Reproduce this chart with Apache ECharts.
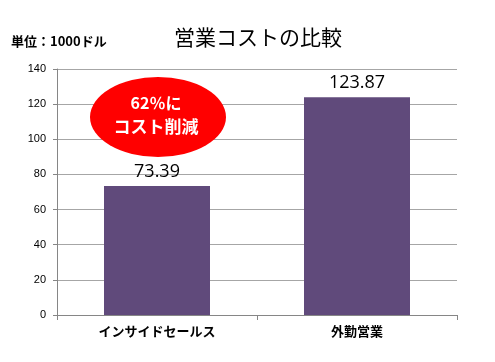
<!DOCTYPE html>
<html><head><meta charset="utf-8">
<script src="https://cdn.jsdelivr.net/npm/echarts@6/dist/echarts.min.js"></script>
<style>html,body{margin:0;padding:0;background:#fff}#c{width:495px;height:362px}</style>
</head><body><div id="c"></div>
<script>
const categories = ['インサイドセールス', '外勤営業'];
const costs = [73.39, 123.87];
const yTicks = { min: 0, max: 140, interval: 20 };
const titleText = '営業コストの比較';
const unitText = '単位：1000ドル';
const calloutLines = ['62％に', 'コスト削減'];

const JP = '"Noto Sans CJK JP", sans-serif';
const chart = echarts.init(document.getElementById('c'), null, { renderer: 'canvas' });
chart.setOption({
  animation: false,
  backgroundColor: '#ffffff',
  title: {
    text: titleText, left: 253, top: 22, textAlign: 'center',
    textStyle: { fontFamily: JP, fontSize: 21, fontWeight: 'normal', color: '#000' }
  },
  grid: { left: 57, right: 38, top: 69, bottom: 47 },
  xAxis: {
    type: 'category', data: categories,
    axisLine: { lineStyle: { color: '#868686' } },
    axisTick: { show: true, length: 5, lineStyle: { color: '#868686' } },
    axisLabel: { fontFamily: JP, fontSize: 13, fontWeight: 'bold', color: '#000', margin: 10 }
  },
  yAxis: {
    type: 'value', min: yTicks.min, max: yTicks.max, interval: yTicks.interval,
    axisLine: { show: true, lineStyle: { color: '#868686' } },
    axisTick: { show: true, length: 4, lineStyle: { color: '#868686' } },
    splitLine: { lineStyle: { color: '#a6a6a6' } },
    axisLabel: { fontFamily: '"Liberation Sans", sans-serif', fontSize: 11, color: '#000', margin: 11 }
  },
  series: [{
    type: 'bar', data: costs, barWidth: '53%',
    itemStyle: { color: '#604A7B' },
    label: {
      show: true, position: 'top', distance: 5,
      fontFamily: '"Open Sans", sans-serif', fontSize: 18, color: '#000',
      formatter: p => p.value.toFixed(2)
    }
  }],
  graphic: [
    { type: 'text', left: 11, top: 35,
      style: { text: unitText, fontFamily: JP, fontSize: 13, fontWeight: 'bold', fill: '#000' } },
    { type: 'circle', x: 158, y: 117, scaleX: 1.7, scaleY: 1,
      shape: { cx: 0, cy: 0, r: 40 }, style: { fill: '#ff0000' }, z: 10 },
    { type: 'text', x: 156, y: 103, z: 11,
      style: { text: calloutLines[0], fontFamily: JP, fontSize: 16, fontWeight: 'bold', fill: '#fff', align: 'center', verticalAlign: 'middle' } },
    { type: 'text', x: 156, y: 127, z: 11,
      style: { text: calloutLines[1], fontFamily: JP, fontSize: 17, fontWeight: 'bold', fill: '#fff', align: 'center', verticalAlign: 'middle' } }
  ]
});
</script></body></html>
